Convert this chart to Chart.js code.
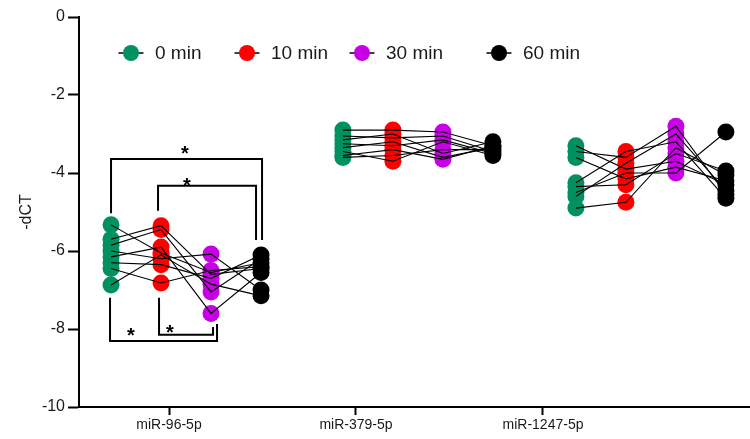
<!DOCTYPE html>
<html>
<head>
<meta charset="utf-8">
<script src="https://cdn.jsdelivr.net/npm/chart.js@4"></script>
<style>
  html, body { margin: 0; padding: 0; background: #fff; }
  #wrap { width: 750px; height: 439px; }
</style>
</head>
<body>
<div id="wrap"><canvas id="chart"></canvas></div>
<script>
// Categorias, tempos e ticks
var miRNAs = ['miR-96-5p', 'miR-379-5p', 'miR-1247-5p']
var timeLabels = ['0 min', '10 min', '30 min', '60 min']
var yTicks = [-10, -8, -6, -4, -2, 0]

// -dCT por amostra (mesmo índice = mesma amostra)
var mir96_0 = [-5.33, -5.70, -5.85, -6.00, -6.15, -6.30, -6.45, -6.87]
var mir96_10 = [-6.05, -5.35, -5.45, -6.20, -5.90, -6.35, -6.82, -6.10]
var mir96_30 = [-6.55, -6.60, -7.05, -6.08, -7.60, -6.70, -6.50, -6.85]
var mir96_60 = [-6.30, -6.45, -6.20, -7.00, -6.55, -6.10, -6.40, -7.15]

var mir379_0 = [-2.90, -3.05, -3.15, -3.25, -3.35, -3.45, -3.55, -3.60]
var mir379_10 = [-2.90, -3.10, -3.00, -3.30, -3.20, -3.70, -3.40, -3.55]
var mir379_30 = [-2.95, -3.05, -3.50, -3.15, -3.60, -3.20, -3.65, -3.40]
var mir379_60 = [-3.30, -3.45, -3.20, -3.50, -3.35, -3.55, -3.30, -3.40]

var mir1247_0 = [-3.30, -3.45, -3.60, -4.25, -4.35, -4.50, -4.60, -4.90]
var mir1247_10 = [-3.90, -3.60, -4.15, -3.45, -4.30, -4.00, -3.75, -4.75]
var mir1247_30 = [-3.70, -2.80, -3.85, -3.20, -3.50, -4.00, -3.00, -3.35]
var mir1247_60 = [-4.30, -4.55, -4.20, -4.65, -3.95, -2.95, -4.45, -4.05]

var series = [
  [mir96_0, mir96_10, mir96_30, mir96_60],
  [mir379_0, mir379_10, mir379_30, mir379_60],
  [mir1247_0, mir1247_10, mir1247_30, mir1247_60]
]

// Cores de cada tempo
var colors = ['#00915f', '#ff0000', '#c800e6', '#000000']

// Layout (unidades do eixo x)
var clusterStart = [0.690, 1.930, 3.176]
var step = 0.2674
var pxU = 1 / 187
function xPos(m, t) { return clusterStart[m] + t * step }

// Colchetes de significância
var brackets = [
  { m: 0, a: 0, b: 3, da: 0, db: 1, level: -3.64, endA: -5.03, endB: -5.72, sx: 1.0856, sy: -3.36 },
  { m: 0, a: 1, b: 3, da: -3, db: -5, level: -4.33, endA: -4.97, endB: -5.72, sx: 1.0963, sy: -4.18 },
  { m: 0, a: 0, b: 2, da: -1, db: 6, level: -8.31, endA: -7.20, endB: -7.87, sx: 0.7968, sy: -8.03 },
  { m: 0, a: 1, b: 2, da: -2, db: 2, level: -8.15, endA: -7.20, endB: -7.95, sx: 1.0053, sy: -7.95 }
]

var datasets = []

// Linhas pareadas
series.forEach(function (groups, m) {
  for (var s = 0; s < groups[0].length; s++) {
    var pts = []
    for (var t = 0; t < groups.length; t++) {
      pts.push({ x: xPos(m, t), y: groups[t][s] })
    }
    datasets.push({
      data: pts,
      showLine: true,
      borderColor: '#000',
      borderWidth: 1.1,
      pointRadius: 0,
      order: 0
    })
  }
})

// Pontos por tempo
timeLabels.forEach(function (label, t) {
  var pts = []
  series.forEach(function (groups, m) {
    groups[t].forEach(function (v) { pts.push({ x: xPos(m, t), y: v }) })
  })
  datasets.push({
    label: label,
    data: pts,
    backgroundColor: colors[t],
    borderWidth: 0,
    pointRadius: 8.5,
    order: 1
  })
})

var bracketPlugin = {
  id: 'brackets',
  afterDatasetsDraw: function (chart) {
    var ctx = chart.ctx
    var xs = chart.scales.x
    var ys = chart.scales.y
    ctx.save()
    ctx.strokeStyle = '#000'
    ctx.lineWidth = 2
    brackets.forEach(function (b) {
      var x1 = xs.getPixelForValue(xPos(b.m, b.a) + b.da * pxU)
      var x2 = xs.getPixelForValue(xPos(b.m, b.b) + b.db * pxU)
      ctx.beginPath()
      ctx.moveTo(x1, ys.getPixelForValue(b.endA))
      ctx.lineTo(x1, ys.getPixelForValue(b.level))
      ctx.lineTo(x2, ys.getPixelForValue(b.level))
      ctx.lineTo(x2, ys.getPixelForValue(b.endB))
      ctx.stroke()
      ctx.fillStyle = '#000'
      ctx.font = 'bold 20px "Liberation Sans", Arial, sans-serif'
      ctx.textAlign = 'center'
      ctx.textBaseline = 'alphabetic'
      ctx.fillText('*', xs.getPixelForValue(b.sx), ys.getPixelForValue(b.sy) + 12)
    })
    ctx.restore()
  }
}

// Legenda desenhada no topo
var legendX = [131, 247, 362, 499]
var legendY = 53
var legendPlugin = {
  id: 'customLegend',
  afterDraw: function (chart) {
    var ctx = chart.ctx
    ctx.save()
    timeLabels.forEach(function (label, t) {
      var cx = legendX[t]
      ctx.strokeStyle = '#000'
      ctx.lineWidth = 1.5
      ctx.beginPath()
      ctx.moveTo(cx - 12.5, legendY)
      ctx.lineTo(cx + 12.5, legendY)
      ctx.stroke()
      ctx.fillStyle = colors[t]
      ctx.beginPath()
      ctx.arc(cx, legendY, 8, 0, Math.PI * 2)
      ctx.fill()
      ctx.fillStyle = '#1a1a1a'
      ctx.font = '19px "Liberation Sans", Arial, sans-serif'
      ctx.textAlign = 'left'
      ctx.textBaseline = 'middle'
      ctx.fillText(label, cx + 24, legendY + 1)
    })
    ctx.restore()
  }
}

new Chart(document.getElementById('chart'), {
  type: 'scatter',
  data: { datasets: datasets },
  options: {
    responsive: true,
    maintainAspectRatio: false,
    animation: false,
    layout: { autoPadding: false, padding: { top: 17, left: 0, right: 0, bottom: 0 } },
    plugins: {
      legend: { display: false },
      tooltip: { enabled: false }
    },
    scales: {
      x: {
        type: 'linear',
        min: 0.5187,
        max: 4.107,
        afterFit: function (scale) {
          scale.height = 32
          scale.paddingLeft = 0
          scale.paddingRight = 0
        },
        afterBuildTicks: function (scale) {
          scale.ticks = miRNAs.map(function (n, i) { return { value: i + 1 } })
        },
        ticks: {
          color: '#1a1a1a',
          padding: 2,
          maxRotation: 0,
          font: { family: '"Liberation Sans", Arial, sans-serif', size: 14 },
          callback: function (v) { return miRNAs[Math.round(v) - 1] }
        },
        grid: { display: true, drawOnChartArea: false, drawTicks: true, tickLength: 8, tickWidth: 2, tickColor: '#000' },
        border: { display: true, color: '#000', width: 2 }
      },
      y: {
        min: -10,
        max: 0,
        afterFit: function (scale) { scale.width = 79 },
        afterBuildTicks: function (scale) {
          scale.ticks = yTicks.map(function (v) { return { value: v } })
        },
        ticks: {
          color: '#1a1a1a',
          padding: 3,
          font: { family: '"Liberation Sans", Arial, sans-serif', size: 16 }
        },
        title: {
          display: true,
          text: '-dCT',
          color: '#1a1a1a',
          padding: { top: 17, bottom: 0 },
          font: { family: '"Liberation Sans", Arial, sans-serif', size: 16 }
        },
        grid: { display: true, drawOnChartArea: false, drawTicks: true, tickLength: 11, tickWidth: 2, tickColor: '#000' },
        border: { display: true, color: '#000', width: 2 }
      }
    }
  },
  plugins: [bracketPlugin, legendPlugin]
})
</script>
</body>
</html>
